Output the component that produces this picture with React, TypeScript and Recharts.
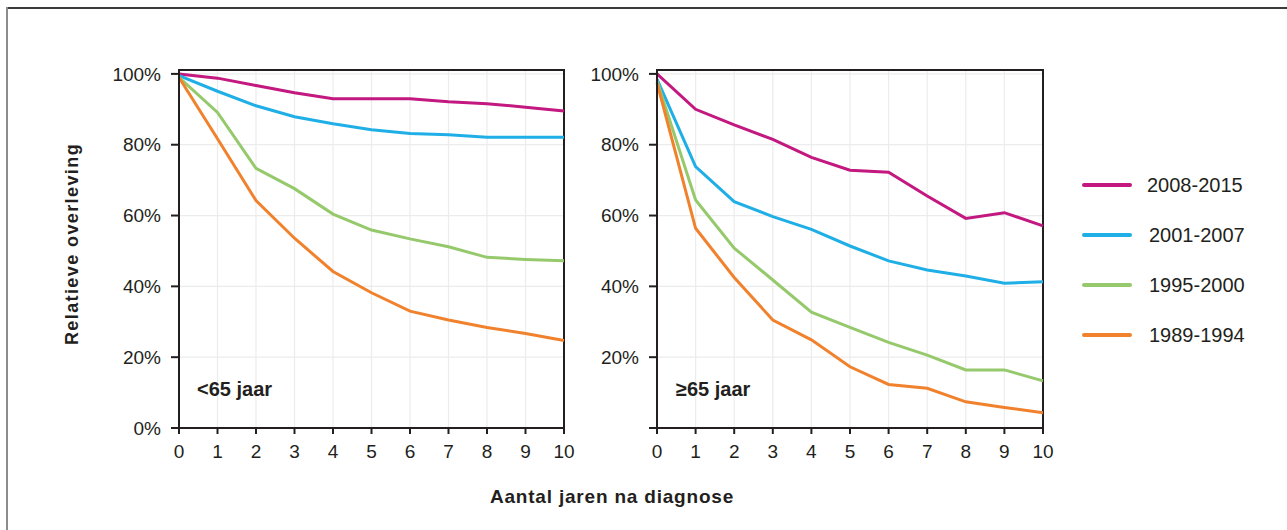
import React from 'react';
import { LineChart, Line, XAxis, YAxis, CartesianGrid, ReferenceArea } from 'recharts';

const years = [0, 1, 2, 3, 4, 5, 6, 7, 8, 9, 10];
const yTicks = [0, 20, 40, 60, 80, 100];
const seriesNames = ['2008-2015', '2001-2007', '1995-2000', '1989-1994'];
const seriesKeys = ['p2008', 'p2001', 'p1995', 'p1989'];
const seriesColors = ['#C2187F', '#1FAFE6', '#95C96C', '#F1822D'];

// < 65 jaar
const under65_2008 = [100, 98.8, 96.7, 94.7, 93.0, 93.0, 93.0, 92.1, 91.6, 90.6, 89.5];
const under65_2001 = [99.5, 95.1, 91.0, 87.9, 85.9, 84.2, 83.2, 82.8, 82.1, 82.1, 82.1];
const under65_1995 = [99, 89.1, 73.3, 67.6, 60.4, 55.9, 53.4, 51.2, 48.2, 47.6, 47.2];
const under65_1989 = [99, 81.7, 64.2, 53.6, 44.2, 38.2, 33.0, 30.5, 28.4, 26.7, 24.7];

// >= 65 jaar
const over65_2008 = [100, 90.0, 85.6, 81.5, 76.4, 72.8, 72.2, 65.5, 59.2, 60.8, 57.1];
const over65_2001 = [98.5, 73.8, 63.9, 59.7, 56.1, 51.4, 47.2, 44.6, 42.9, 40.9, 41.3];
const over65_1995 = [98, 64.4, 50.8, 41.8, 32.7, 28.4, 24.2, 20.6, 16.4, 16.4, 13.3];
const over65_1989 = [97.5, 56.4, 42.5, 30.5, 24.9, 17.3, 12.3, 11.2, 7.4, 5.8, 4.3];

const build = (a: number[], b: number[], c: number[], d: number[]) =>
  years.map((y, i) => ({ year: y, p2008: a[i], p2001: b[i], p1995: c[i], p1989: d[i] }));

const dataUnder = build(under65_2008, under65_2001, under65_1995, under65_1989);
const dataOver = build(over65_2008, over65_2001, over65_1995, over65_1989);

const FONT = '"Liberation Sans", Arial, Helvetica, sans-serif';
const TXT = '#231f20';
const YMAX = 101.1;

function Panel({ data, left, showZero }: { data: any[]; left: number; showZero: boolean }) {
  return (
    <div style={{ position: 'absolute', left, top: 0 }}>
      <LineChart
        width={left === 0 ? 600 : 480}
        height={530}
        data={data}
        margin={{ top: 70, right: 17 + (left === 0 ? 19 : 0), bottom: 72, left: left === 0 ? 119 : 17 }}
      >
        <CartesianGrid stroke="#ececec" strokeWidth={1.2} vertical horizontal />
        <XAxis
          dataKey="year"
          type="number"
          domain={[0, 10]}
          ticks={years}
          interval={0}
          height={30}
          tickSize={6}
          tickMargin={11}
          stroke={TXT}
          strokeWidth={2}
          tick={{ fill: TXT, fontSize: 19, fontFamily: FONT }}
        />
        <YAxis
          type="number"
          domain={[0, YMAX]}
          ticks={yTicks}
          interval={0}
          width={60}
          tickSize={8}
          tickMargin={10}
          stroke={TXT}
          strokeWidth={2}
          allowDataOverflow
          tickFormatter={(v: number) => (v === 0 && !showZero ? '' : `${v}%`)}
          tick={{ fill: TXT, fontSize: 19, fontFamily: FONT }}
        />
        <ReferenceArea x1={0} x2={10} y1={0} y2={YMAX} fill="none" stroke={TXT} strokeWidth={2} ifOverflow="visible" />
        {seriesKeys.map((k, i) => (
          <Line
            key={k}
            dataKey={k}
            name={seriesNames[i]}
            type="linear"
            stroke={seriesColors[i]}
            strokeWidth={3}
            dot={false}
            activeDot={false}
            isAnimationActive={false}
          />
        ))}
      </LineChart>
    </div>
  );
}

export default function App() {
  return (
    <div
      style={{
        position: 'absolute',
        left: 0,
        top: 0,
        width: 1287,
        height: 530,
        background: '#fff',
        fontFamily: FONT,
        color: TXT,
        overflow: 'hidden',
      }}
    >
      {/* frame */}
      <div style={{ position: 'absolute', left: 7, top: 7, width: 1280, height: 1.5, background: '#3a3a3a' }} />
      <div style={{ position: 'absolute', left: 6, top: 7, width: 2, height: 523, background: '#8c8c8c' }} />

      <Panel data={dataUnder} left={0} showZero={true} />
      <Panel data={dataOver} left={580} showZero={false} />

      {/* panel labels */}
      <div style={{ position: 'absolute', left: 197, top: 378, fontSize: 20, fontWeight: 'bold', whiteSpace: 'nowrap' }}>
        {'<65 jaar'}
      </div>
      <div style={{ position: 'absolute', left: 676, top: 378, fontSize: 20, fontWeight: 'bold', whiteSpace: 'nowrap' }}>
        {'≥65 jaar'}
      </div>

      {/* y title */}
      <div
        style={{
          position: 'absolute',
          left: 72,
          top: 244,
          transform: 'translate(-50%, -50%) rotate(-90deg)',
          fontSize: 18,
          fontWeight: 'bold',
          letterSpacing: 1.4,
          whiteSpace: 'nowrap',
        }}
      >
        Relatieve overleving
      </div>

      {/* x title */}
      <div
        style={{
          position: 'absolute',
          left: 612,
          top: 497,
          transform: 'translate(-50%, -50%)',
          fontSize: 19,
          fontWeight: 'bold',
          letterSpacing: 0.8,
          whiteSpace: 'nowrap',
        }}
      >
        Aantal jaren na diagnose
      </div>

      {/* legend */}
      {seriesNames.map((n, i) => (
        <div key={n} style={{ position: 'absolute', left: 1082, top: 185 + i * 50, height: 0 }}>
          <div
            style={{
              position: 'absolute',
              left: 0,
              top: -2,
              width: 50,
              height: 4,
              borderRadius: 2,
              background: seriesColors[i],
            }}
          />
          <div
            style={{
              position: 'absolute',
              left: i === 0 ? 65 : 67,
              top: -12,
              fontSize: 20,
              lineHeight: '24px',
              whiteSpace: 'nowrap',
            }}
          >
            {n}
          </div>
        </div>
      ))}
    </div>
  );
}
